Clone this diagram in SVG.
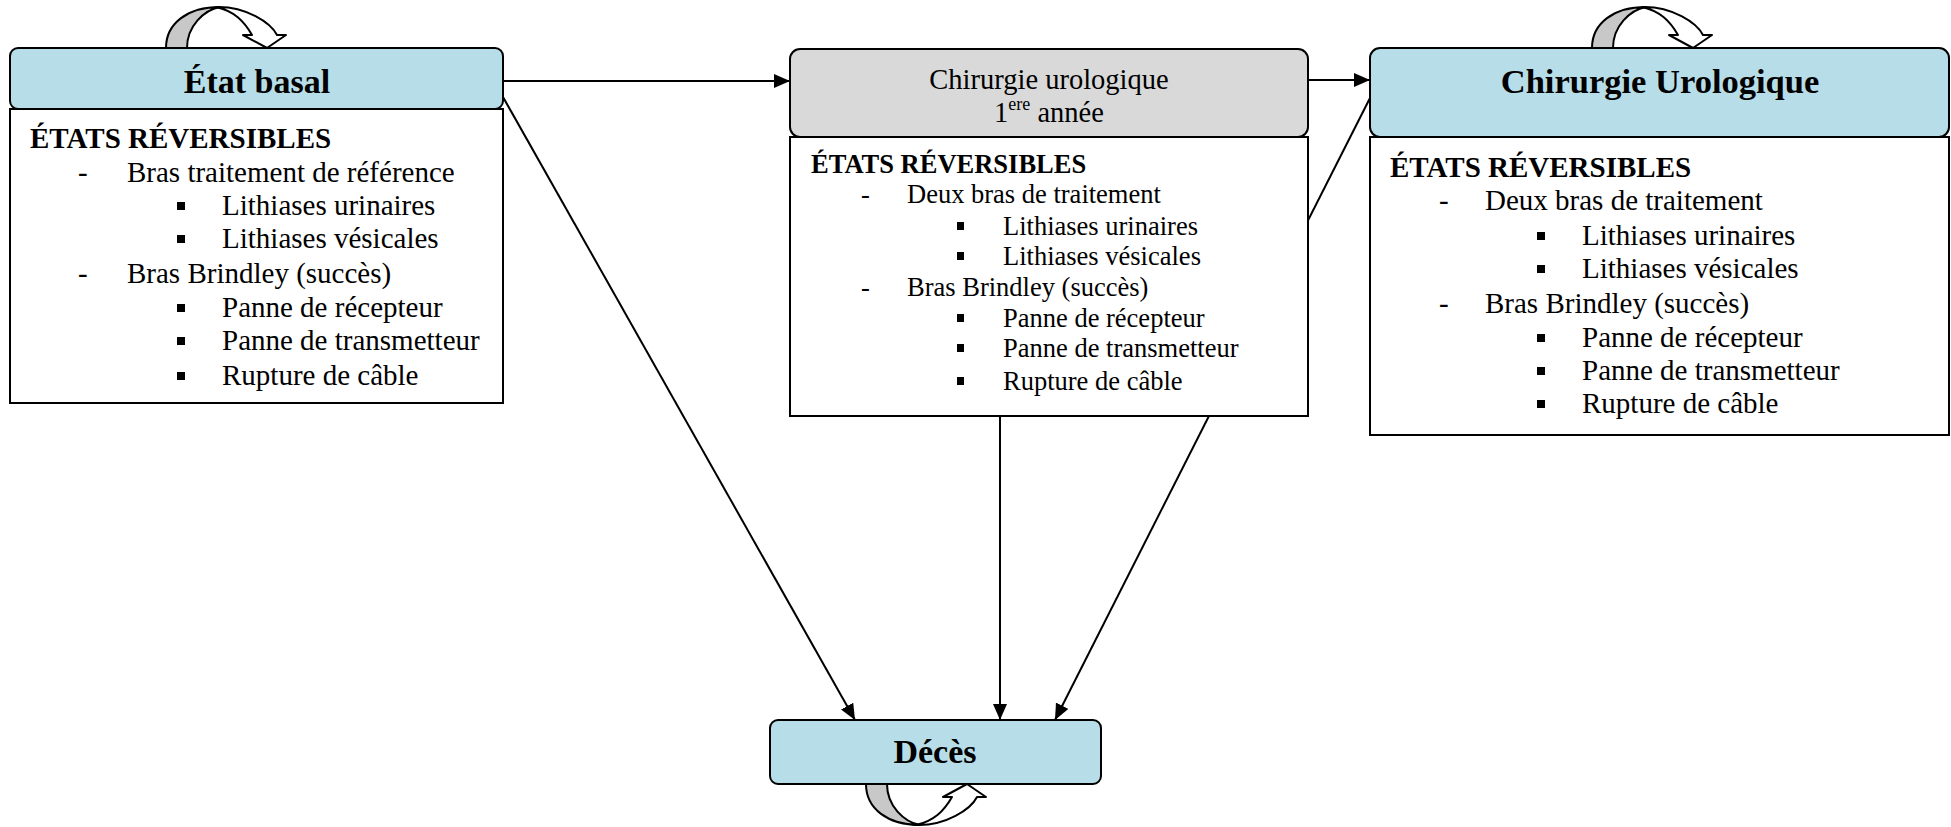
<svg xmlns="http://www.w3.org/2000/svg" width="1951" height="827" viewBox="0 0 1951 827" font-family="'Liberation Serif', 'DejaVu Serif', serif">
<style>
.hdr{fill:#B7DDE8;stroke:#000;stroke-width:2}
.hdrg{fill:#D9D9D9;stroke:#000;stroke-width:2}
.body{fill:#fff;stroke:#000;stroke-width:2}
text{font-family:'Liberation Serif', 'DejaVu Serif', serif;fill:#000}
.b{font-weight:bold}
.conn{stroke:#000;stroke-width:2;fill:none}
.lg{fill:#C8C8C8;stroke:#000;stroke-width:2;stroke-linejoin:round}
.lw{fill:#fff;stroke:#000;stroke-width:2;stroke-linejoin:round}
.sq{fill:#000}
</style>
<defs>
<marker id="ah" viewBox="0 0 16 14" refX="16" refY="7" markerWidth="16" markerHeight="14" markerUnits="userSpaceOnUse" orient="auto">
<path d="M0,0 L16,7 L0,14 Z" fill="#000"/>
</marker>
<g id="loop">
<path class="lg" d="M0,0 C0,-25 22,-41 54,-41 C38,-38 21,-22 21,0 Z"/>
<path class="lw" d="M50,-41 C80,-42 105,-25 111,-13 L120,-13 L101,0 L77,-13 L86,-13 C78,-27 68,-37 50,-41 Z"/>
</g>
</defs>
<rect width="1951" height="827" fill="#fff"/>
<g id="connectors">
<path class="conn" d="M503,81 H790" marker-end="url(#ah)"/>
<path class="conn" d="M1308,80 H1370" marker-end="url(#ah)"/>
<path class="conn" d="M503,97 L855,720" marker-end="url(#ah)"/>
<path class="conn" d="M1370,98 L1055,720" marker-end="url(#ah)"/>
<path class="conn" d="M1000,416 V720" marker-end="url(#ah)"/>
</g>
<g id="etat-basal">
<use href="#loop" transform="translate(166,48)"/>
<rect class="body" x="10" y="109" width="493" height="294"/>
<rect class="hdr" x="10" y="48" width="493" height="61" rx="8"/>
<text class="b" x="257" y="93" font-size="34" text-anchor="middle">État basal</text>
<g font-size="29">
<text class="b" x="30" y="148">ÉTATS RÉVERSIBLES</text>
<text x="78" y="182">-</text><text x="127" y="182">Bras traitement de référence</text>
<rect class="sq" x="177" y="202" width="8" height="8"/><text x="222" y="215">Lithiases urinaires</text>
<rect class="sq" x="177" y="235" width="8" height="8"/><text x="222" y="248">Lithiases vésicales</text>
<text x="78" y="283">-</text><text x="127" y="283">Bras Brindley (succès)</text>
<rect class="sq" x="177" y="304" width="8" height="8"/><text x="222" y="317">Panne de récepteur</text>
<rect class="sq" x="177" y="337" width="8" height="8"/><text x="222" y="350">Panne de transmetteur</text>
<rect class="sq" x="177" y="372" width="8" height="8"/><text x="222" y="385">Rupture de câble</text>
</g>
</g>
<g id="chirurgie-1ere">
<rect class="body" x="790" y="137" width="518" height="279"/>
<rect class="hdrg" x="790" y="49" width="518" height="88" rx="10"/>
<text x="1049" y="89" font-size="28.5" text-anchor="middle">Chirurgie urologique</text>
<text x="1049" y="122" font-size="28.5" text-anchor="middle">1<tspan font-size="18" dy="-12">ere</tspan><tspan dy="12"> année</tspan></text>
<g font-size="26.5">
<text class="b" x="811" y="173">ÉTATS RÉVERSIBLES</text>
<text x="861" y="203">-</text><text x="907" y="203">Deux bras de traitement</text>
<rect class="sq" x="957" y="222" width="7" height="8"/><text x="1003" y="235">Lithiases urinaires</text>
<rect class="sq" x="957" y="252" width="7" height="8"/><text x="1003" y="265">Lithiases vésicales</text>
<text x="861" y="296">-</text><text x="907" y="296">Bras Brindley (succès)</text>
<rect class="sq" x="957" y="314" width="7" height="8"/><text x="1003" y="327">Panne de récepteur</text>
<rect class="sq" x="957" y="344" width="7" height="8"/><text x="1003" y="357">Panne de transmetteur</text>
<rect class="sq" x="957" y="377" width="7" height="8"/><text x="1003" y="390">Rupture de câble</text>
</g>
</g>
<g id="chirurgie-urologique">
<use href="#loop" transform="translate(1592,48)"/>
<rect class="body" x="1370" y="137" width="579" height="298"/>
<rect class="hdr" x="1370" y="48" width="579" height="89" rx="10"/>
<text class="b" x="1660" y="93" font-size="34.5" text-anchor="middle">Chirurgie Urologique</text>
<g font-size="29">
<text class="b" x="1390" y="177">ÉTATS RÉVERSIBLES</text>
<text x="1439" y="210">-</text><text x="1485" y="210">Deux bras de traitement</text>
<rect class="sq" x="1537" y="232" width="8" height="8"/><text x="1582" y="245">Lithiases urinaires</text>
<rect class="sq" x="1537" y="265" width="8" height="8"/><text x="1582" y="278">Lithiases vésicales</text>
<text x="1439" y="313">-</text><text x="1485" y="313">Bras Brindley (succès)</text>
<rect class="sq" x="1537" y="334" width="8" height="8"/><text x="1582" y="347">Panne de récepteur</text>
<rect class="sq" x="1537" y="367" width="8" height="8"/><text x="1582" y="380">Panne de transmetteur</text>
<rect class="sq" x="1537" y="400" width="8" height="8"/><text x="1582" y="413">Rupture de câble</text>
</g>
</g>
<g id="deces">
<use href="#loop" transform="translate(866,784) scale(1,-1)"/>
<rect class="hdr" x="770" y="720" width="331" height="64" rx="8"/>
<text class="b" x="935" y="763" font-size="34" text-anchor="middle">Décès</text>
</g>
</svg>
